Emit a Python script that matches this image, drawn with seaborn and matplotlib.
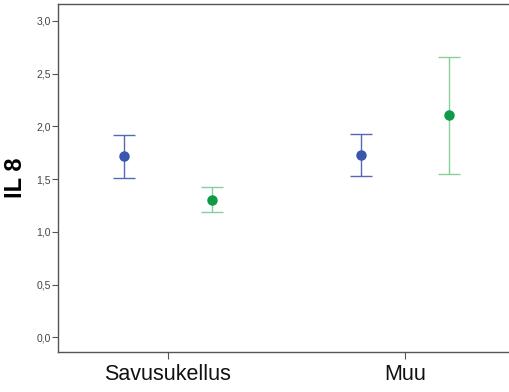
import numpy as np
import pandas as pd
import seaborn as sns
import matplotlib.pyplot as plt
from matplotlib.ticker import FuncFormatter

groups = ["Savusukellus", "Muu"]
series = ["A", "B"]
means_a = [1.72, 1.73]
lo_a = [1.51, 1.53]
hi_a = [1.92, 1.93]
means_b = [1.305, 2.11]
lo_b = [1.19, 1.55]
hi_b = [1.42, 2.66]

point_colors = ["#3a55ad", "#0f9a47"]
bar_colors = ["#5468b5", "#88d09a"]
dodge = 0.37

df = pd.DataFrame({
    "group": groups * 2,
    "series": [series[0]] * 2 + [series[1]] * 2,
    "mean": means_a + means_b,
    "lo": lo_a + lo_b,
    "hi": hi_a + hi_b,
})

sns.set_style("white")
plt.rcParams["font.family"] = ["Liberation Sans", "DejaVu Sans"]

fig = plt.figure(figsize=(5.10, 3.92), dpi=100)
ax = fig.add_axes([58 / 510, 40 / 392, 457 / 510, 348 / 392])

sns.pointplot(data=df, x="group", y="mean", hue="series", order=groups,
              hue_order=series, palette=point_colors, dodge=dodge,
              errorbar=None, linestyle="none", markers="o", markersize=5.5,
              legend=False, ax=ax, zorder=3)

# error bars, same dodge offsets as pointplot
offsets = np.linspace(-dodge / 2, dodge / 2, len(series))
for i, s in enumerate(series):
    sub = df[df["series"] == s].set_index("group").loc[groups]
    xs = np.arange(len(groups)) + offsets[i]
    yerr = [sub["mean"] - sub["lo"], sub["hi"] - sub["mean"]]
    ax.errorbar(xs, sub["mean"], yerr=yerr, fmt="none", ecolor=bar_colors[i],
                elinewidth=1.0, capsize=8, capthick=1.0, zorder=2)

ax.set_xlim(-0.464, 1.464)
ax.set_ylim(-0.14, 3.16)
ax.set_yticks(np.arange(0, 3.01, 0.5))
ax.yaxis.set_major_formatter(FuncFormatter(lambda v, p: f"{v:.1f}".replace(".", ",")))

for side in ["left", "bottom", "top"]:
    ax.spines[side].set_visible(True)
    ax.spines[side].set_color("#555555")
    ax.spines[side].set_linewidth(1.0)
ax.spines["right"].set_visible(False)

ax.tick_params(axis="y", which="major", left=True, length=4, width=0.8,
               color="#555555", labelsize=7.5, labelcolor="#444444", pad=1)
ax.tick_params(axis="x", which="major", bottom=True, length=5, width=0.8,
               color="#555555", labelsize=15.5, labelcolor="#111111", pad=4)

ax.set_xlabel("")
ax.set_ylabel("IL 8", fontsize=17, fontweight="bold", color="black")
ax.yaxis.set_label_coords(-0.068, 0.5)

fig.savefig("out.png", dpi=100)
